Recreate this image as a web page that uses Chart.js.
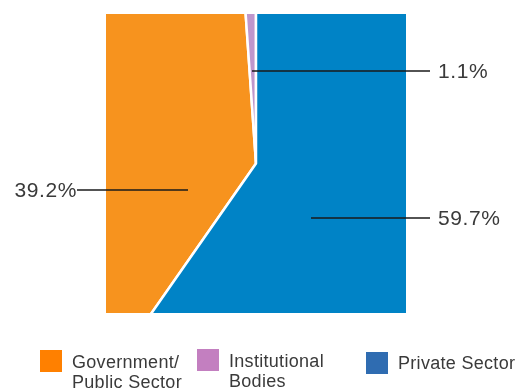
<!DOCTYPE html>
<html>
<head>
<meta charset="utf-8">
<script src="https://cdn.jsdelivr.net/npm/chart.js@4"></script>
<style>
  html, body { margin: 0; padding: 0; background: #fff; }
  #wrap { width: 515px; height: 390px; position: relative; }
</style>
</head>
<body>
<div id="wrap"><canvas id="c"></canvas></div>
<script>
// Funding share by sector (percent)
const categories = ['Government/Public Sector', 'Institutional Bodies', 'Private Sector'];
const legendLines = [['Government/', 'Public Sector'], ['Institutional', 'Bodies'], ['Private Sector']];
const shares = [39.2, 1.1, 59.7];
const sliceColors = ['#F7931E', '#BF97CC', '#0083C6'];
const legendColors = ['#FF8000', '#C37FC0', '#2F6CB1'];

// Callout placement for each slice: anchor offset from pie centre, side of the label
const callouts = [
  { dx: -68, dy: 26.5, side: 'left' },
  { dx: -4, dy: -92.5, side: 'right' },
  { dx: 55, dy: 54.5, side: 'right' }
];

const total = shares.reduce((a, b) => a + b, 0);
// The private sector slice runs clockwise from 12 o'clock, so the first slice starts where it ends
const startRotation = shares[2] / total * 360;

const calloutPlugin = {
  id: 'callouts',
  afterDatasetsDraw(chart) {
    const ctx = chart.ctx;
    const arc = chart.getDatasetMeta(0).data[0];
    const cx = arc.x, cy = arc.y;
    ctx.save();
    ctx.font = '21px "Liberation Sans", Arial, sans-serif';
    ctx.fillStyle = '#3a3a3a';
    ctx.textBaseline = 'middle';
    try { ctx.letterSpacing = '0.6px'; } catch (e) {}
    shares.forEach((v, i) => {
      const c = callouts[i];
      const ax = cx + c.dx, ay = cy + c.dy;
      const outerX = c.side === 'right' ? chart.chartArea.right + 24 : chart.chartArea.left - 29;
      ctx.beginPath();
      ctx.strokeStyle = '#1a1a1a';
      ctx.lineWidth = 1.5;
      ctx.moveTo(ax, ay);
      ctx.lineTo(outerX, ay);
      ctx.stroke();
      const txt = v.toFixed(1) + '%';
      if (c.side === 'right') {
        ctx.textAlign = 'left';
        ctx.fillText(txt, outerX + 8, ay + 1);
      } else {
        ctx.textAlign = 'right';
        ctx.fillText(txt, outerX, ay + 1);
      }
    });
    ctx.restore();
  }
};

const legendPlugin = {
  id: 'sectorLegend',
  afterDraw(chart) {
    const ctx = chart.ctx;
    const itemX = [40, 197, 366];
    const boxTop = [350, 349, 352];
    const box = 22;
    ctx.save();
    ctx.font = '18px "Liberation Sans", Arial, sans-serif';
    try { ctx.letterSpacing = '0.3px'; } catch (e) {}
    ctx.textBaseline = 'alphabetic';
    ctx.textAlign = 'left';
    categories.forEach((name, i) => {
      ctx.fillStyle = legendColors[i];
      ctx.fillRect(itemX[i], boxTop[i], box, box);
      ctx.fillStyle = '#3a3a3a';
      const lines = legendLines[i];
      const tx = itemX[i] + box + 10;
      if (lines.length === 1) {
        ctx.fillText(lines[0], tx, boxTop[i] + 17);
      } else {
        lines.forEach((ln, k) => ctx.fillText(ln, tx, boxTop[i] + 18 + k * 20));
      }
    });
    ctx.restore();
  }
};

new Chart(document.getElementById('c'), {
  type: 'pie',
  data: {
    labels: categories,
    datasets: [{
      data: shares,
      backgroundColor: sliceColors,
      borderColor: '#ffffff',
      borderWidth: 2.5,
      radius: '145%',
      clip: 0
    }]
  },
  options: {
    responsive: true,
    maintainAspectRatio: false,
    animation: false,
    rotation: startRotation,
    layout: { padding: { left: 106, right: 109, top: 14, bottom: 77 } },
    plugins: {
      legend: { display: false },
      tooltip: { enabled: false }
    }
  },
  plugins: [calloutPlugin, legendPlugin]
});
</script>
</body>
</html>
